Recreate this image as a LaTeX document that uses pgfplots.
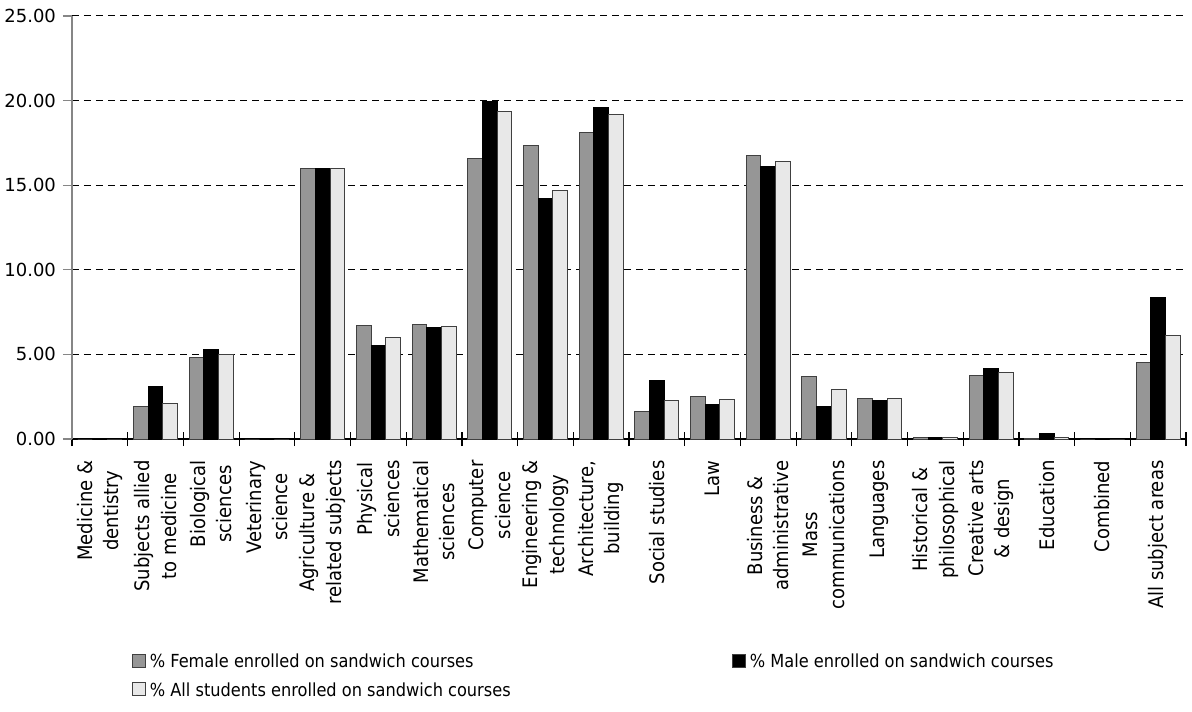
\documentclass[border=0pt]{standalone}
\usepackage{fontspec}
\setmainfont{DejaVu Sans}
\newfontfamily\condfont{DejaVu Sans Condensed}
\usepackage{pgfplots}
\pgfplotsset{compat=1.18}
\definecolor{fem}{HTML}{969696}
\definecolor{allc}{HTML}{E8E8E8}
\definecolor{edge}{HTML}{404040}
\definecolor{yax}{HTML}{868686}
\begin{document}
\begin{tikzpicture}
\path[use as bounding box] (-36pt,-136pt) rectangle (560pt,219.5pt);
\begin{axis}[
  at={(0pt,0pt)}, anchor=south west,
  scale only axis, width=557pt, height=211.5pt,
  ybar=0pt, bar width=7.35pt,
  xmin=-0.5, xmax=19.5, ymin=0, ymax=25,
  axis lines=left,
  x axis line style={-, black, line width=0.6pt},
  y axis line style={-, yax, line width=0.6pt},
  xtick={0,...,19},
  xticklabels={{Medicine \&\\dentistry},{Subjects allied\\to medicine},{Biological\\sciences},{Veterinary\\science},{Agriculture \&\\related subjects},{Physical\\sciences},{Mathematical\\sciences},{Computer\\science},{Engineering \&\\technology},{Architecture,\\building},{Social studies},{Law},{Business \&\\administrative},{Mass\\communications},{Languages},{Historical \&\\philosophical},{Creative arts\\\& design},{Education},{Combined},{All subject areas}},
  minor xtick={-0.5,0.5,...,19.5},
  major x tick style={draw=none},
  minor x tick style={black, line width=0.6pt},
  major y tick style={yax, line width=0.6pt},
  xtick align=center, ytick align=outside,
  major tick length=4.5pt, minor tick length=7pt,
  ytick={0,5,10,15,20,25},
  ymajorgrids,
  major grid style={black, line width=0.5pt, dash pattern=on 3.5pt off 2.5pt},
  /pgf/number format/fixed, /pgf/number format/fixed zerofill,
  /pgf/number format/precision=2, /pgf/number format/assume math mode=true,
  y tick label style={font=\fontsize{9}{11}\selectfont},
  x tick label style={font=\condfont\fontsize{10}{13.2}\selectfont, yshift=-5pt, rotate=90, anchor=east, align=center},
  legend columns=2,
  legend cell align=left,
  legend style={at={(0.048,-0.488)}, anchor=north west, draw=none, fill=none,
    font=\condfont\fontsize{9}{11}\selectfont, row sep=2pt},
  legend image code/.code={\draw[#1, draw=edge, line width=0.5pt] (0pt,-2.5pt) rectangle (6.5pt,4pt);},
]
\addplot[fill=fem, draw=edge, line width=0.5pt] coordinates {
(0,0) (1,1.92) (2,4.80) (3,0) (4,16.0) (5,6.72) (6,6.78) (7,16.56) (8,17.37) (9,18.12)
(10,1.63) (11,2.51) (12,16.73) (13,3.72) (14,2.40) (15,0.10) (16,3.74) (17,0.05) (18,0) (19,4.51)};
\addlegendentry{\makebox[289pt][l]{\% Female enrolled on sandwich courses}}
\addplot[fill=black, draw=black, line width=0.5pt] coordinates {
(0,0) (1,3.10) (2,5.30) (3,0) (4,16.0) (5,5.52) (6,6.58) (7,19.97) (8,14.19) (9,19.61)
(10,3.43) (11,2.05) (12,16.08) (13,1.93) (14,2.28) (15,0.08) (16,4.17) (17,0.33) (18,0) (19,8.36)};
\addlegendentry{\% Male enrolled on sandwich courses}
\addplot[fill=allc, draw=edge, line width=0.5pt] coordinates {
(0,0) (1,2.12) (2,5.00) (3,0) (4,16.0) (5,6.00) (6,6.62) (7,19.38) (8,14.67) (9,19.16)
(10,2.29) (11,2.32) (12,16.42) (13,2.90) (14,2.38) (15,0.10) (16,3.92) (17,0.10) (18,0) (19,6.09)};
\addlegendentry{\% All students enrolled on sandwich courses}
\end{axis}
\end{tikzpicture}
\end{document}
